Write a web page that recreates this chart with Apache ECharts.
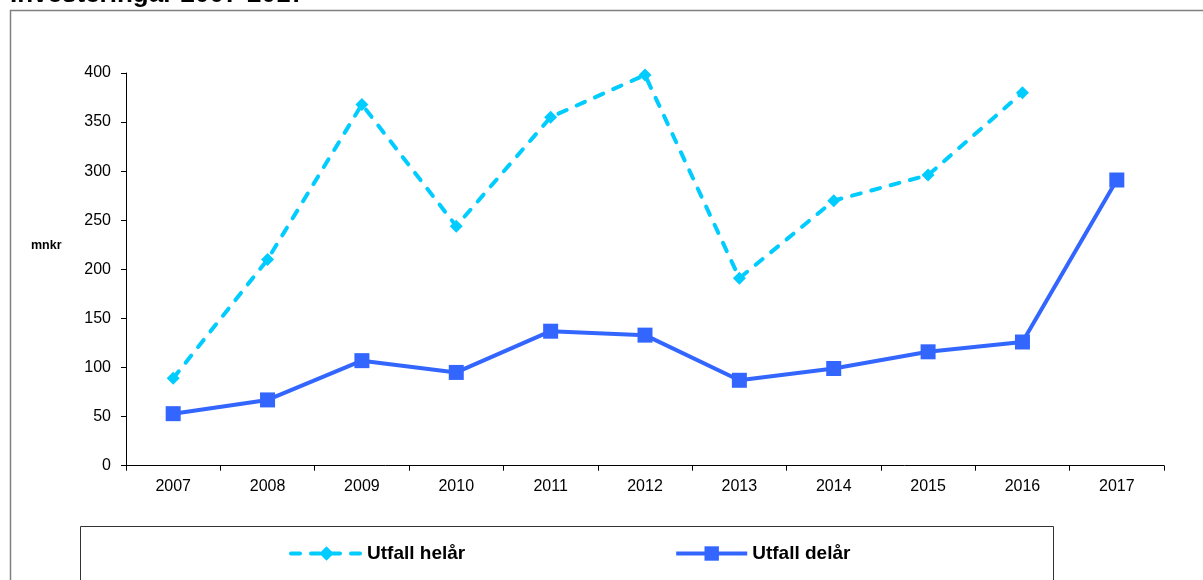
<!DOCTYPE html>
<html>
<head>
<meta charset="utf-8">
<script src="https://cdn.jsdelivr.net/npm/echarts@6/dist/echarts.min.js"></script>
<style>
  html, body { margin: 0; padding: 0; background: #fff; }
  #chart { width: 1203px; height: 580px; }
</style>
</head>
<body>
<div id="chart"></div>
<script>
var titleText = 'Investeringar 2007-2017';
var unitLabel = 'mnkr';
var years = ['2007', '2008', '2009', '2010', '2011', '2012', '2013', '2014', '2015', '2016', '2017'];
var helarName = 'Utfall helår';
var delarName = 'Utfall delår';
var helarValues = [89, 210, 368, 244, 355, 398, 191, 270, 296, 380, null];
var delarValues = [53, 67, 107, 95, 137, 133, 87, 99, 116, 126, 291];

var chart = echarts.init(document.getElementById('chart'), null, { renderer: 'canvas' });
var font = 'Arial, "Liberation Sans", sans-serif';

chart.setOption({
  animation: false,
  backgroundColor: '#ffffff',
  grid: { left: 126, right: 39, top: 73, bottom: 114.3, containLabel: false },
  graphic: [
    { type: 'rect', silent: true, z: -10,
      shape: { x: 10.5, y: 10.5, width: 1400, height: 800 },
      style: { fill: 'none', stroke: '#808080', lineWidth: 1.5 } },
    { type: 'rect', silent: true, z: -10,
      shape: { x: 80.5, y: 526.5, width: 973, height: 200 },
      style: { fill: 'none', stroke: '#333333', lineWidth: 1 } },
    { type: 'text', silent: true, left: 10, top: -18,
      style: { text: titleText, font: 'bold 26px ' + font, fill: '#000' } },
    { type: 'text', silent: true, left: 31, top: 239,
      style: { text: unitLabel, font: 'bold 12.5px ' + font, fill: '#000' } }
  ],
  legend: {
    left: 284, top: 539,
    itemWidth: 71, itemHeight: 18, itemGap: 209,
    textStyle: { fontFamily: font, fontWeight: 'bold', fontSize: 19, color: '#000' },
    data: [
      { name: helarName, lineStyle: { width: 4, type: [9, 11], cap: 'round' } },
      { name: delarName, lineStyle: { width: 4 } }
    ]
  },
  xAxis: {
    type: 'category',
    data: years,
    boundaryGap: true,
    axisLine: { lineStyle: { color: '#000', width: 1 } },
    axisTick: { show: true, length: 5, lineStyle: { color: '#000' } },
    axisLabel: { color: '#000', fontFamily: font, fontSize: 16, margin: 13 },
    splitLine: { show: false }
  },
  yAxis: {
    type: 'value',
    min: 0, max: 400, interval: 50,
    axisLine: { show: true, lineStyle: { color: '#000', width: 1 } },
    axisTick: { show: true, length: 5, lineStyle: { color: '#000' } },
    axisLabel: { color: '#000', fontFamily: font, fontSize: 16, margin: 15 },
    splitLine: { show: false }
  },
  series: [
    {
      name: helarName, type: 'line', data: helarValues,
      symbol: 'diamond', symbolSize: 13,
      itemStyle: { color: '#00CCFF' },
      lineStyle: { color: '#00CCFF', width: 4, type: [9, 11], cap: 'round' },
      connectNulls: false
    },
    {
      name: delarName, type: 'line', data: delarValues,
      symbol: 'rect', symbolSize: 15,
      itemStyle: { color: '#3366FF' },
      lineStyle: { color: '#3366FF', width: 4 }
    }
  ]
});
</script>
</body>
</html>
